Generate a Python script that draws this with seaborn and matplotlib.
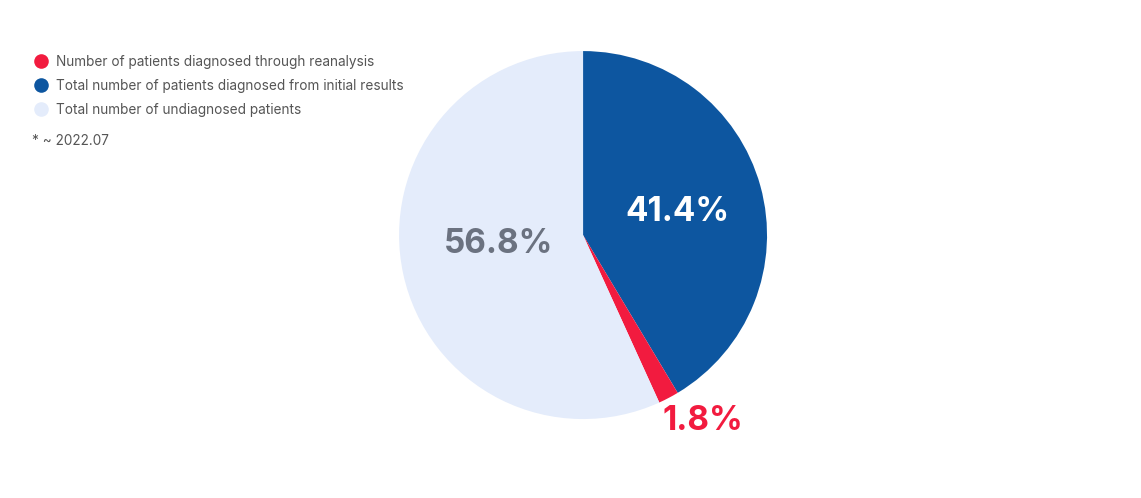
import numpy as np
import matplotlib
matplotlib.use("Agg")
import matplotlib.pyplot as plt
from matplotlib.lines import Line2D
import seaborn as sns

labels = ["Number of patients diagnosed through reanalysis",
          "Total number of patients diagnosed from initial results",
          "Total number of undiagnosed patients"]
# drawing order (clockwise from top): initial, reanalysis, undiagnosed
pie_order = [1, 0, 2]
values = [1.8, 41.4, 56.8]
pct_text = ["1.8%", "41.4%", "56.8%"]
colors = ["#F21B3F", "#0D56A0", "#E4ECFB"]
label_colors = ["#F21B3F", "#FFFFFF", "#6B7280"]
label_radius = [1.2, 0.53, 0.46]
label_angle_shift = [5, -2, -6]
note = "* ~ 2022.07"

sns.set_theme(style="white")
plt.rcParams['font.family'] = ['Inter', 'DejaVu Sans']

fig = plt.figure(figsize=(11.41, 4.98), dpi=100)
ax = fig.add_axes([0.511 - 0.16125, 0.528 - 0.3695, 0.3225, 0.739])

vals = [values[i] for i in pie_order]
cols = [colors[i] for i in pie_order]
wedges, _ = ax.pie(vals, colors=cols, startangle=90, counterclock=False,
                   wedgeprops=dict(linewidth=0))
ax.set_aspect('equal')
ax.set_xlim(-1, 1)
ax.set_ylim(-1, 1)

for w, i in zip(wedges, pie_order):
    mid = np.deg2rad((w.theta1 + w.theta2) / 2 + label_angle_shift[i])
    r = label_radius[i]
    ax.text(r * np.cos(mid), r * np.sin(mid), pct_text[i], ha='center', va='center',
            fontsize=24, fontweight='bold', color=label_colors[i], clip_on=False)

handles = [Line2D([0], [0], marker='o', linestyle='', markersize=10.5,
                  markerfacecolor=c, markeredgewidth=0) for c in colors]
leg = fig.legend(handles, labels, loc='upper left', bbox_to_anchor=(0.024, 0.9),
                 frameon=False, fontsize=9.8, handletextpad=0.52, labelspacing=0.71,
                 handlelength=1.2, borderaxespad=0)
for t in leg.get_texts():
    t.set_color("#555555")

fig.text(32 / 1141, 1 - 141 / 498, note, fontsize=9.8, color="#555555", va='center', ha='left')

fig.savefig("out.png", dpi=100, facecolor='white')
